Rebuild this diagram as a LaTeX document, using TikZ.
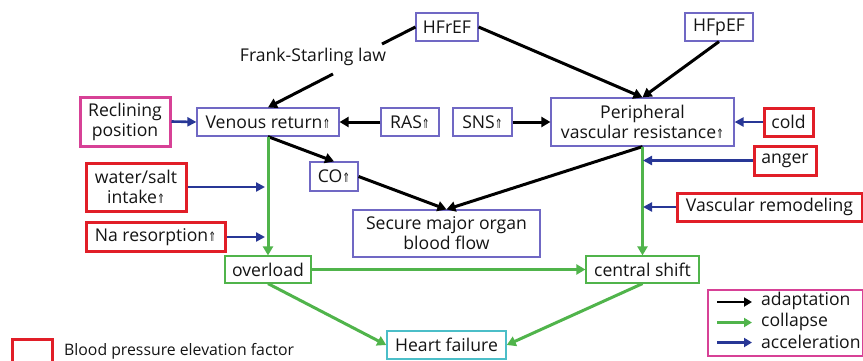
\documentclass[tikz,border=0pt]{standalone}
\usepackage{fontspec}
\setmainfont{Open Sans}
\newfontfamily\symf{DejaVu Sans}
\usetikzlibrary{arrows.meta}
\definecolor{boxpurple}{RGB}{112,104,196}
\definecolor{bpred}{RGB}{225,30,40}
\definecolor{posmag}{RGB}{215,65,150}
\definecolor{colgreen}{RGB}{80,180,75}
\definecolor{accblue}{RGB}{40,55,150}
\definecolor{hfcyan}{RGB}{75,190,200}
\definecolor{txt}{RGB}{20,20,20}
\newcommand\upp{{\symf\fontsize{13}{13}\selectfont\scalebox{0.72}[1]{⇑}}}
\tikzset{
  x=1pt,y=-1pt,
  every node/.style={font=\fontsize{17.6}{20}\selectfont, text=txt, inner sep=0pt, align=center},
  pbox/.style={draw=boxpurple, line width=1.2pt, fill=white},
  rbox/.style={draw=bpred, line width=3pt, fill=white},
  mbox/.style={draw=posmag, line width=3pt, fill=white},
  gbox/.style={draw=colgreen, line width=1.2pt, fill=white},
  cbox/.style={draw=hfcyan, line width=1.5pt, fill=white},
  adapt/.style={draw=black, line width=3pt, -{Triangle[length=9pt,width=10pt]}},
  coll/.style={draw=colgreen, line width=3pt, -{Triangle[length=9pt,width=10pt]}},
  accel/.style={draw=accblue, line width=2.6pt, -{Triangle[length=9pt,width=9pt]}},
}
\begin{document}
\begin{tikzpicture}
\useasboundingbox (0,0) rectangle (863,360);
% nodes
\node[pbox, minimum width=62, minimum height=28] (hfref) at (447,27) {HFrEF};
\node[pbox, minimum width=68, minimum height=28] (hfpef) at (719,27) {HFpEF};
\node (fs) at (313,57) {Frank-Starling law};
\node[mbox, minimum width=90, minimum height=49] (recl) at (125,121.5) {Reclining\\position};
\node[pbox, minimum width=142, minimum height=28] (venous) at (268,122) {Venous return\upp};
\node[pbox, minimum width=58, minimum height=28] (ras) at (410,122) {RAS\upp};
\node[pbox, minimum width=59, minimum height=28] (sns) at (482.5,122) {SNS\upp};
\node[pbox, minimum width=183, minimum height=48] (pvr) at (642.5,122) {Peripheral\\vascular resistance\upp};
\node[rbox, minimum width=49, minimum height=28] (cold) at (788.5,122) {cold};
\node[rbox, minimum width=62, minimum height=29] (anger) at (785,160.5) {anger};
\node[pbox, minimum width=48, minimum height=29] (co) at (334,176.5) {CO\upp};
\node[rbox, minimum width=100, minimum height=48] (water) at (136,187) {water/salt\\intake\upp};
\node[rbox, minimum width=139, minimum height=29] (na) at (155.5,237) {Na resorption\upp};
\node[pbox, minimum width=187, minimum height=47] (secure) at (446.5,233.5) {Secure major organ\\blood flow};
\node[rbox, minimum width=185, minimum height=28] (vasc) at (769.5,207) {Vascular remodeling};
\node[gbox, minimum width=86, minimum height=27] (overload) at (268,269.5) {overload};
\node[gbox, minimum width=113, minimum height=27] (central) at (642.5,269.5) {central shift};
\node[cbox, minimum width=119, minimum height=28] (hf) at (446.5,345) {Heart failure};
% coordinates for the Frank-Starling connector
\coordinate (fsa) at (382,44);
\coordinate (fsb) at (333,74);
% adaptation arrows
\draw[black, line width=3pt] (hfref.west) -- (fsa);
\draw[adapt] (fsb) -- (venous.north);
\draw[adapt] (ras.west) -- (venous.east);
\draw[adapt] (sns.east) -- (pvr.west);
\draw[adapt] (hfref.east) -- (pvr.north);
\draw[adapt] (hfpef.south) -- (pvr.north);
\draw[adapt] (venous.south) -- (co.north);
\draw[adapt] (co.east) -- (secure.north);
\draw[adapt] (pvr.south) -- (secure.north);
% collapse arrows
\draw[coll] (venous.south) -- (overload.north);
\draw[coll] (pvr.south) -- (central.north);
\draw[coll] (overload.east) -- (central.west);
\draw[coll] (overload.south) -- (hf.west);
\draw[coll] (central.south) -- (hf.east);
% acceleration arrows
\draw[accel] (recl.east) -- (venous.west);
\draw[accel] (cold.west) -- (pvr.east);
\draw[accel, shorten >=3pt] (water.east) -- (water.east -| overload.north);
\draw[accel, shorten >=3pt] (na.east) -- (na.east -| overload.north);
\draw[accel, shorten >=0.5pt] (anger.west) -- (anger.west -| central.north);
\draw[accel, shorten >=0.5pt] (vasc.west) -- (vasc.west -| central.north);
% legend
\draw[draw=bpred, line width=3pt] (12,362) -- (12,339.5) -- (52,339.5) -- (52,362);
\node[anchor=west, font=\fontsize{15.8}{18}\selectfont] (bplabel) at (64,351) {Blood pressure elevation factor};
\node[draw=posmag, line width=2pt, minimum width=155, minimum height=66] (legend) at (785,322.5) {};
\coordinate (l1a) at (717,302); \coordinate (l1b) at (752,302);
\coordinate (l2a) at (717,322.5); \coordinate (l2b) at (752,322.5);
\coordinate (l3a) at (717,342.5); \coordinate (l3b) at (752,342.5);
\draw[black, line width=2.4pt, -{Triangle[length=8pt,width=9pt]}] (l1a) -- (l1b);
\draw[colgreen, line width=2.4pt, -{Triangle[length=8pt,width=9pt]}] (l2a) -- (l2b);
\draw[accblue, line width=2.4pt, -{Triangle[length=8pt,width=9pt]}] (l3a) -- (l3b);
\node[anchor=west] (lt1) at (761,301) {adaptation};
\node[anchor=west] (lt2) at (761,321.5) {collapse};
\node[anchor=west] (lt3) at (761,341.5) {acceleration};
\end{tikzpicture}
\end{document}
